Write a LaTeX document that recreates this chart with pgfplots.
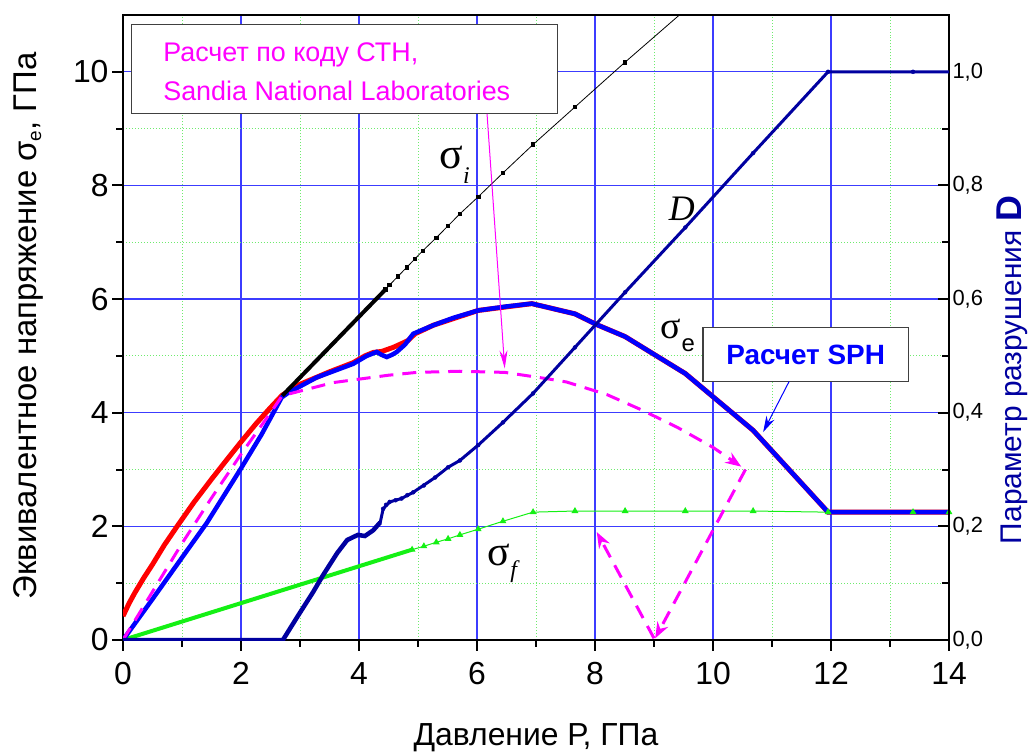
\documentclass[border=0pt]{standalone}
\usepackage{fontspec}
\setmainfont{Liberation Sans}
\newfontfamily\serif{Liberation Serif}
\usepackage{pgfplots}
\pgfplotsset{compat=1.18}
\usetikzlibrary{arrows.meta}
\definecolor{gridblue}{RGB}{60,60,255}
\definecolor{gridgreen}{RGB}{110,235,110}
\definecolor{navy}{RGB}{0,0,160}
\definecolor{sphblue}{RGB}{0,0,255}
\definecolor{fgreen}{RGB}{20,240,20}
\definecolor{mag}{RGB}{255,0,255}
\begin{document}
\begin{tikzpicture}
\path[use as bounding box] (-123bp,-113bp) rectangle (910bp,640bp);
\begin{axis}[
  scale only axis, width=826bp, height=625bp,
  xmin=0, xmax=14, ymin=0, ymax=11,
  xtick={0,2,...,14}, ytick={0,2,...,10},
  minor xtick={1,3,...,13}, minor ytick={1,3,...,9},
  grid=both,
  every axis grid/.style={},
  major grid style={solid, color=gridblue, line width=1.3bp},
  minor grid style={color=gridgreen, dotted, line width=1bp},
  axis line style={line width=2bp, black},
  xtick pos=left, ytick pos=left,
  tick align=outside,
  major tick length=11bp, minor tick length=7bp,
  major tick style={black, line width=2bp},
  minor tick style={black, line width=2bp},
  ticklabel style={font=\fontsize{32}{32}\selectfont},
  xticklabel style={yshift=-8bp},
  /pgf/number format/assume math mode=true,
  clip=true,
]
% sigma_f (green)
\addplot[fgreen, line width=4bp] coordinates {(0,0) (4.9,1.59)};
\addplot[fgreen, line width=1bp, mark=triangle*, mark size=3bp] coordinates {
(4.9,1.59) (5.1,1.65) (5.31,1.72) (5.51,1.78) (5.71,1.85) (6.02,1.95) (6.44,2.09) (6.95,2.25) (7.66,2.27) (8.51,2.27) (9.53,2.27) (10.68,2.27) (11.95,2.25) (13.39,2.25) (14,2.25)};
% red
\addplot[red, line width=5bp] coordinates {
(0,0.42) (0.1,0.64) (0.2,0.83) (0.35,1.09) (0.5,1.33) (0.7,1.67) (0.91,1.99) (1.2,2.42) (1.5,2.83) (1.75,3.16) (1.98,3.46) (2.25,3.80) (2.5,4.09) (2.7,4.31)
(3.0,4.50) (3.5,4.72) (3.9,4.88) (4.1,5.0) (4.24,5.06) (4.39,5.08) (4.58,5.15) (4.73,5.22) (4.83,5.27) (4.95,5.39) (5.26,5.54) (6.02,5.80) (6.93,5.92) (7.66,5.74) (8.03,5.55) (8.51,5.34) (9.53,4.69) (10.68,3.69) (11.95,2.25) (14,2.25)};
% blue SPH
\addplot[sphblue, line width=4.5bp] coordinates {
(0,0) (0.5,0.72) (1,1.45) (1.42,2.06) (2,3.02) (2.35,3.62) (2.69,4.27) (2.8,4.35) (3.28,4.62) (3.9,4.86) (4.13,5.0) (4.3,5.07) (4.38,5.02) (4.47,4.98) (4.56,5.02) (4.64,5.07) (4.78,5.2) (4.92,5.39) (5.26,5.54) (5.6,5.67) (6.02,5.80) (6.5,5.87) (6.93,5.92) (7.66,5.74) (8.03,5.55) (8.51,5.34) (9.53,4.69) (10.68,3.69) (11.95,2.25) (14,2.25)};
% sigma_i (black)
\addplot[black, line width=4bp] coordinates {(2.7,4.3) (4.45,6.17)};
\addplot[black, line width=0.8bp, mark=square*, mark size=1.8bp] coordinates {
(4.45,6.17) (4.52,6.25) (4.66,6.40) (4.81,6.56) (4.95,6.71) (5.08,6.85) (5.31,7.08) (5.51,7.29) (5.71,7.50) (6.02,7.80) (6.44,8.22) (6.95,8.72) (7.66,9.38) (8.51,10.17) (9.53,11.09)};
% CTH (magenta dashed)
\addplot[mag, line width=3bp, dash pattern=on 14bp off 9bp, -{Stealth[length=16bp,width=12bp]}] coordinates {
(0,0) (0.5,0.85) (1,1.70) (1.5,2.50) (2,3.27) (2.5,4.0) (2.7,4.3) (3.56,4.53) (4.5,4.66) (4.98,4.71) (5.7,4.73) (6.47,4.71) (7.18,4.60) (7.52,4.54) (8.2,4.32) (8.81,4.04) (9.4,3.74) (10.0,3.39) (10.48,3.05)};
\addplot[mag, line width=3bp, dash pattern=on 14bp off 9bp, -{Stealth[length=16bp,width=12bp]}] coordinates {(10.55,3.0) (9.02,0.03)};
\addplot[mag, line width=3bp, dash pattern=on 14bp off 9bp, -{Stealth[length=16bp,width=12bp]}] coordinates {(9.0,0.03) (8.03,1.9)};
% annotations
\draw[fill=white, draw=black!75, line width=1.2bp] (axis cs:0.15,10.83) rectangle (axis cs:7.36,9.26);
\node[anchor=base west, text=mag, font=\fontsize{27}{27}\selectfont, inner sep=0] at (axis cs:0.68,10.19) {Расчет по коду СТН,};
\node[anchor=base west, text=mag, font=\fontsize{27}{27}\selectfont, inner sep=0] at (axis cs:0.68,9.49) {Sandia National Laboratories};
\draw[mag, line width=1bp, -{Stealth[length=18bp,width=8bp]}] (axis cs:6.17,9.26) -- (axis cs:6.47,4.78);
\draw[fill=white, draw=black!75, line width=1.2bp] (axis cs:9.83,5.50) rectangle (axis cs:13.32,4.55);
\node[text=sphblue, font=\bfseries\fontsize{28}{28}\selectfont] at (axis cs:11.57,5.02) {Расчет SPH};
\draw[sphblue, line width=1bp, -{Stealth[length=16bp,width=9bp]}] (axis cs:11.29,4.55) -- (axis cs:10.85,3.66);
\node[font=\serif\fontsize{44}{44}\selectfont, inner sep=0] at (axis cs:5.56,8.49) {σ};
\node[font=\serif\itshape\fontsize{24}{24}\selectfont, inner sep=0] at (axis cs:5.82,8.18) {i};
\node[font=\serif\fontsize{38}{38}\selectfont, inner sep=0] at (axis cs:9.28,5.48) {σ};
\node[font=\fontsize{24}{24}\selectfont, inner sep=0] at (axis cs:9.58,5.18) {e};
\node[font=\serif\fontsize{42}{42}\selectfont, inner sep=0] at (axis cs:6.37,1.49) {σ};
\node[font=\serif\itshape\fontsize{24}{24}\selectfont, inner sep=0] at (axis cs:6.62,1.2) {f};
\node[font=\serif\itshape\fontsize{36}{36}\selectfont, inner sep=0] at (axis cs:9.47,7.59) {D};
\end{axis}
\begin{axis}[
  scale only axis, width=826bp, height=625bp,
  xmin=0, xmax=14, ymin=0, ymax=1.1,
  axis x line=none,
  axis y line*=right,
  grid=none,
  ytick={0,0.2,0.4,0.6,0.8,1.0}, minor ytick={0.1,0.3,0.5,0.7,0.9},
  tick align=inside,
  major tick length=11bp, minor tick length=7bp,
  major tick style={black, line width=2bp},
  minor tick style={black, line width=2bp},
  axis line style={line width=2bp, black},
  yticklabel style={font=\fontsize{22}{22}\selectfont, /pgf/number format/.cd, fixed, fixed zerofill, precision=1, use comma, assume math mode=true},
  clip=true,
]
\addplot[navy, line width=3bp] coordinates {
(0,0) (2.71,0) (2.95,0.040) (3.22,0.084) (3.39,0.114) (3.63,0.153) (3.8,0.176) (3.98,0.185) (4.1,0.183) (4.24,0.193) (4.36,0.207) (4.41,0.231) (4.52,0.243) (4.72,0.249) (4.92,0.260) (5.29,0.286) (5.51,0.304) (5.71,0.316) (6.02,0.343) (6.44,0.383) (6.95,0.434) (7.66,0.515) (8.51,0.612) (9.53,0.726) (10.68,0.857) (11.95,1.0) (13.39,1.0) (14,1.0)};
\addplot[navy, line width=4.5bp] coordinates {
(0,0) (2.71,0) (2.95,0.040) (3.22,0.084) (3.39,0.114) (3.63,0.153) (3.8,0.176) (3.98,0.185) (4.1,0.183) (4.24,0.193) (4.36,0.207)};
\addplot[navy, only marks, mark=*, mark size=2bp] coordinates {
(4.41,0.231) (4.46,0.238) (4.52,0.243) (4.62,0.246) (4.72,0.249) (4.82,0.255) (4.92,0.260) (5.1,0.272) (5.29,0.286) (5.51,0.304) (5.71,0.316) (6.02,0.343) (6.44,0.383) (6.95,0.434) (7.66,0.515) (8.51,0.612) (9.53,0.726) (10.68,0.857) (11.95,1.0) (13.39,1.0)};
\end{axis}
\node[rotate=90, font=\fontsize{33}{33}\selectfont] at (-95bp,314bp) {Эквивалентное напряжение σ\raisebox{-5bp}{\fontsize{19}{19}\selectfont e}, ГПа};
\node[rotate=90, text=navy, font=\fontsize{30}{30}\selectfont] at (889bp,270bp) {Параметр разрушения {\bfseries\fontsize{36}{36}\selectfont D}};
\node[font=\fontsize{32}{32}\selectfont] at (413bp,-98bp) {Давление Р, ГПа};
\end{tikzpicture}
\end{document}
